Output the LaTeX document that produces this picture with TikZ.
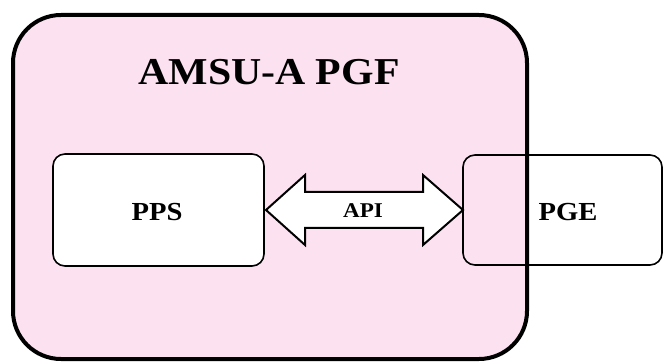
\documentclass[tikz,border=0pt]{standalone}
\usepackage{fontspec}
\newfontfamily\tb[FakeStretch=1.1]{Liberation Serif Bold}
\definecolor{pinkfill}{RGB}{252,226,240}
\begin{document}
\begin{tikzpicture}[x=1pt,y=-1pt,
  sysbox/.style={line width=1.6pt, rounded corners=12pt, inner sep=0pt, outer sep=0pt, anchor=north west},
  lbl/.style={anchor=base, inner sep=0pt, font=\tb}]
\useasboundingbox (0,0) rectangle (663,363);
% outer PGF box fill
\node[fill=pinkfill, rounded corners=48pt, minimum width=514pt, minimum height=344pt,
      inner sep=0pt, outer sep=0pt, anchor=north west] (pgf) at (13,15) {};
% inner boxes
\node[sysbox, draw, fill=white, minimum width=211pt, minimum height=112pt] (pps) at (53,154) {};
\node[sysbox, draw, minimum width=199pt, minimum height=110pt] (pge) at (463,155) {};
% outer border on top
\draw[line width=4pt, rounded corners=48pt] (pgf.north west) rectangle (pgf.south east);
% double arrow API
\coordinate (lt) at ([xshift=2pt]pps.east);
\draw[line width=2pt, fill=white, line join=miter]
  (lt) -- ++(39,-35) -- ++(0,17) -- ++(118,0) -- ++(0,-17) -- (pge.west)
  -- ++(-40,35) -- ++(0,-17) -- ++(-118,0) -- ++(0,17) -- cycle;
% labels
\node[lbl, font=\tb\fontsize{38}{44}\selectfont] (title) at (269,85) {AMSU-A PGF};
\node[lbl, font=\tb\fontsize{26}{30}\selectfont] (ppst) at (157,221) {PPS};
\node[lbl, font=\tb\fontsize{26}{30}\selectfont] (pget) at (568,221) {PGE};
\node[lbl, font=\tb\fontsize{21}{25}\selectfont] (api) at (363,218) {API};
\end{tikzpicture}
\end{document}
